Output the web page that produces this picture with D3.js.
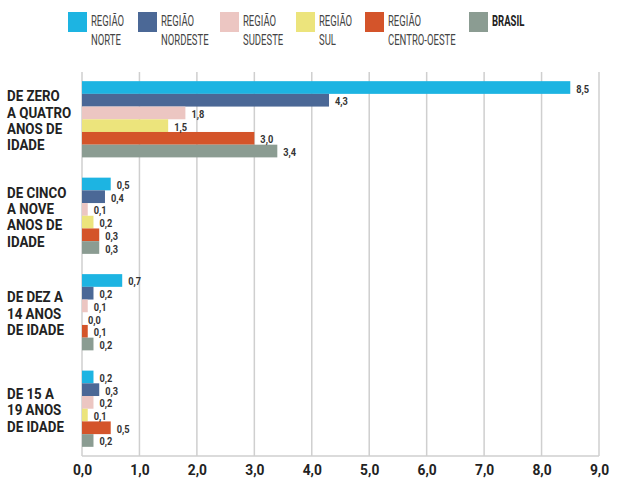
<!DOCTYPE html>
<html>
<head>
<meta charset="utf-8">
<title>D3</title>
<script src="https://d3js.org/d3.v7.min.js"></script>
<style>
  body { margin: 0; background: #fff; }
  svg text { font-family: Roboto, "Noto Sans", sans-serif; }
</style>
</head>
<body>
<script>

var groups = [
  ["DE ZERO", "A QUATRO", "ANOS DE", "IDADE"],
  ["DE CINCO", "A NOVE", "ANOS DE", "IDADE"],
  ["DE DEZ A", "14 ANOS", "DE IDADE"],
  ["DE 15 A", "19 ANOS", "DE IDADE"]
];
var regions = ["norte", "nordeste", "sudeste", "sul", "centro", "brasil"];
var legendLabels = [["REGIÃO", "NORTE"], ["REGIÃO", "NORDESTE"], ["REGIÃO", "SUDESTE"],
                    ["REGIÃO", "SUL"], ["REGIÃO", "CENTRO-OESTE"], ["BRASIL"]];
var colors = ["#1db4e2", "#4b6896", "#ecc6c2", "#ece47c", "#d4542a", "#8b9c92"];

var norte    = [8.5, 0.5, 0.7, 0.2];
var nordeste = [4.3, 0.4, 0.2, 0.3];
var sudeste  = [1.8, 0.1, 0.1, 0.2];
var sul      = [1.5, 0.2, 0.0, 0.1];
var centro   = [3.0, 0.3, 0.1, 0.5];
var brasil   = [3.4, 0.3, 0.2, 0.2];
var ticks = [0, 1, 2, 3, 4, 5, 6, 7, 8, 9];

var series = [norte, nordeste, sudeste, sul, centro, brasil];
var fmt = function(v) { return v.toFixed(1).replace(".", ","); };

var width = 623, height = 481;
var svg = d3.select("body").append("svg")
  .attr("width", width)
  .attr("height", height);

var x = d3.scaleLinear().domain([0, 9]).range([82, 599]);
var y = d3.scaleBand().domain(d3.range(groups.length)).range([72, 456])
  .paddingInner(0.21).paddingOuter(0.095);
var yi = d3.scaleBand().domain(d3.range(regions.length)).range([0, y.bandwidth()]);

// grid
svg.selectAll("line.grid")
  .data(ticks)
  .enter().append("line")
  .attr("class", "grid")
  .attr("x1", function(d) { return x(d); })
  .attr("x2", function(d) { return x(d); })
  .attr("y1", 72)
  .attr("y2", 456)
  .attr("stroke", "#cfcfcf")
  .attr("stroke-width", 1.5);

svg.append("line")
  .attr("x1", x(0)).attr("x2", x(9))
  .attr("y1", 456).attr("y2", 456)
  .attr("stroke", "#cfcfcf")
  .attr("stroke-width", 1.5);

// x tick labels
var xAxis = svg.append("g")
  .attr("transform", "translate(0,456)")
  .call(d3.axisBottom(x).tickValues(ticks).tickFormat(fmt).tickSize(0).tickPadding(8));
xAxis.select(".domain").remove();
xAxis.selectAll("text")
  .attr("font-family", "Roboto, sans-serif")
  .attr("font-size", 15)
  .attr("font-weight", "bold")
  .attr("fill", "#222")
  .attr("transform", "scale(0.92,1)");

// bars
var g = svg.selectAll("g.group")
  .data(groups)
  .enter().append("g")
  .attr("class", "group")
  .attr("transform", function(d, i) { return "translate(0," + y(i) + ")"; });

g.each(function(d, gi) {
  var sel = d3.select(this);
  var vals = series.map(function(s) { return s[gi]; });
  sel.selectAll("rect")
    .data(vals)
    .enter().append("rect")
    .attr("x", x(0))
    .attr("y", function(v, i) { return yi(i); })
    .attr("width", function(v) { return x(v) - x(0); })
    .attr("height", yi.bandwidth())
    .attr("fill", function(v, i) { return colors[i]; });

  sel.selectAll("text.val")
    .data(vals)
    .enter().append("text")
    .attr("class", "val")
    .attr("transform", function(v, i) {
      return "translate(" + (x(v) + 6) + "," + (yi(i) + yi.bandwidth() / 2 + 5) + ") scale(0.88,1)";
    })
    .attr("font-size", 10.5)
    .attr("font-weight", "bold")
    .attr("fill", "#333")
    .text(fmt);

  // category label
  var lh = 16.3;
  var cy = y.bandwidth() / 2 - (d.length - 1) * lh / 2;
  sel.append("text")
    .attr("transform", "translate(7,0) scale(0.86,1)")
    .attr("font-size", 15.5)
    .attr("font-weight", "bold")
    .attr("fill", "#222")
    .selectAll("tspan")
    .data(d)
    .enter().append("tspan")
    .attr("x", 0)
    .attr("y", function(t, i) { return cy + i * lh + 6.5; })
    .text(function(t) { return t; });
});

// legend
var legX = [68, 138, 220, 296, 365, 469];
var leg = svg.selectAll("g.leg")
  .data(legendLabels)
  .enter().append("g")
  .attr("class", "leg")
  .attr("transform", function(d, i) { return "translate(" + legX[i] + ",12)"; });

leg.append("rect")
  .attr("width", 19)
  .attr("height", 20)
  .attr("fill", function(d, i) { return colors[i]; });

leg.append("text")
  .attr("transform", "translate(23,0) scale(0.68,1)")
  .attr("font-size", 14)
  .attr("font-weight", function(d, i) { return i == 5 ? "bold" : "normal"; })
  .attr("fill", function(d, i) { return i == 5 ? "#222" : "#444"; })
  .selectAll("tspan")
  .data(function(d) { return d; })
  .enter().append("tspan")
  .attr("x", 0)
  .attr("y", function(t, i) { return 14 + i * 19; })
  .text(function(t) { return t; });

</script>
</body>
</html>
